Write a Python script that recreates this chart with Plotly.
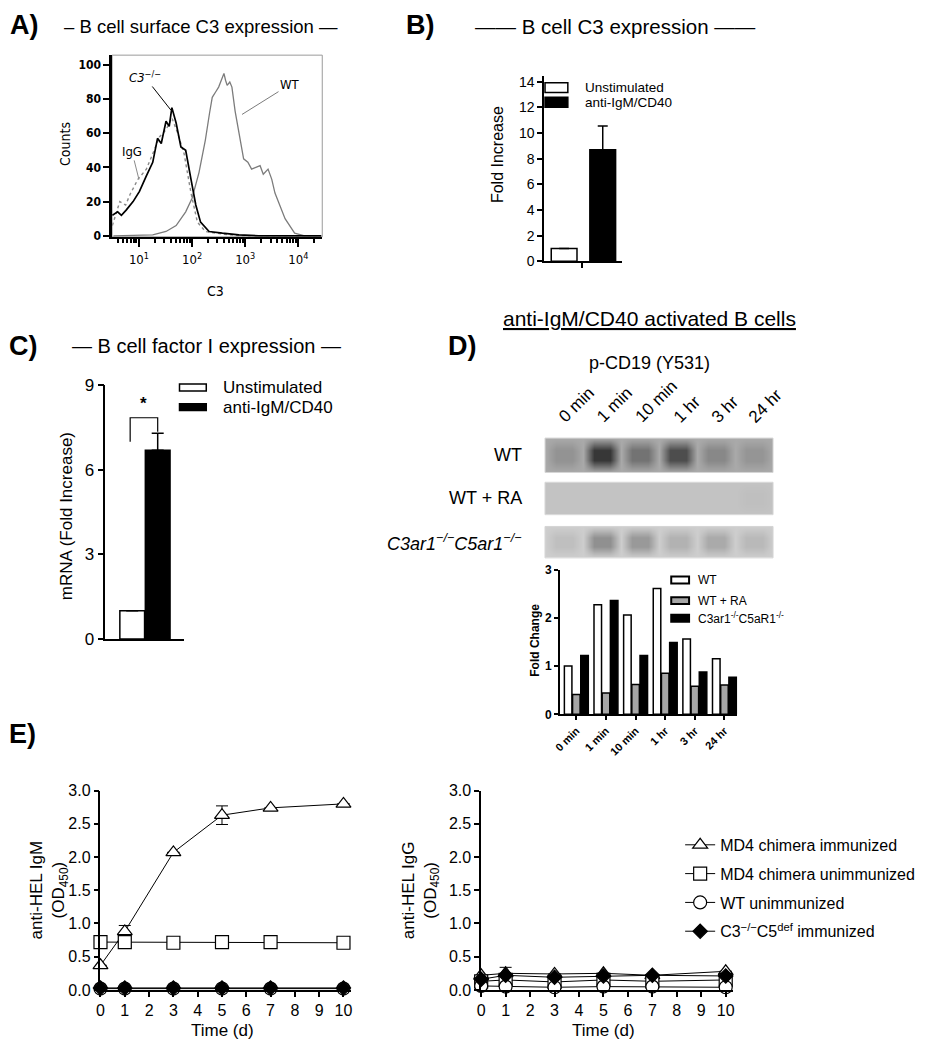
import plotly.graph_objects as go

W, H = 929, 1050
SANS = "Liberation Sans, Arial, sans-serif"
COND = "DejaVu Sans Condensed, DejaVu Sans, sans-serif"


def px(x):
    return x / W


def py(y):
    return 1 - y / H


# ---------------- data ----------------
# A) surface C3 histogram (x given as log10 of C3 intensity)
wt_log = [0.52, 1.26, 1.51, 1.70, 1.88, 2.00, 2.13, 2.25, 2.33, 2.38, 2.44, 2.50, 2.55, 2.60, 2.63,
          2.66, 2.71, 2.75, 2.81, 2.88, 2.97, 3.05, 3.12, 3.20, 3.28, 3.34, 3.43, 3.50, 3.56, 3.75,
          3.93, 4.12, 4.43]
wt_counts = [0, 0.5, 2.5, 6, 14, 22, 37, 56, 72, 81, 84, 87, 91, 95, 91,
             88, 90, 87, 73, 60, 45, 43, 39, 40, 41, 36, 39, 33, 25, 10,
             1.5, 0, 0]
ko_log = [0.50, 0.60, 0.67, 0.76, 0.89, 1.01, 1.14, 1.26, 1.35, 1.42, 1.51, 1.57, 1.62, 1.66,
          1.70, 1.79, 1.88, 1.98, 2.07, 2.16, 2.32, 2.57, 2.88, 3.25, 4.43]
ko_counts = [12, 14, 12, 15, 20, 26, 35, 43, 57, 54, 67, 64, 75, 70,
             66, 52, 50, 33, 18, 8, 2.5, 1.5, 0.5, 0, 0]
igg_log = [0.50, 0.64, 0.75, 0.83, 0.98, 1.14, 1.26, 1.39, 1.51, 1.62, 1.73, 1.85, 1.98, 2.10,
           2.25, 2.57, 2.88, 4.43]
igg_counts = [6, 20, 18, 24, 33, 39, 48, 58, 62, 69, 60, 48, 25, 8,
              2.5, 1, 0, 0]

# B) C3 expression
b_groups = ["Unstimulated", "anti-IgM/CD40"]
b_values = [1.0, 8.7]
b_err = [0, 1.85]

# C) factor I mRNA
c_values = [1.0, 6.7]
c_err = [0, 0.6]

# D) p-CD19 blot and quantification
d_times = ["0 min", "1 min", "10 min", "1 hr", "3 hr", "24 hr"]
d_rows = ["WT", "WT + RA", "<i>C3ar1<sup>\u2212/\u2212</sup>C5ar1<sup>\u2212/\u2212</sup></i>"]
blot_bands = [
    [0.45, 0.88, 0.60, 0.78, 0.50, 0.44],
    [0.22, 0.22, 0.22, 0.22, 0.22, 0.24],
    [0.24, 0.46, 0.42, 0.30, 0.34, 0.27],
]
blot_bg = [0.34, 0.22, 0.17]
d_wt = [1.0, 2.27, 2.06, 2.61, 1.56, 1.15]
d_ra = [0.41, 0.44, 0.62, 0.85, 0.58, 0.61]
d_ko = [1.22, 2.36, 1.22, 1.49, 0.88, 0.77]
d_series = ["WT", "WT + RA", "C3ar1<sup>-/-</sup>C5aR1<sup>-/-</sup>"]

# E) anti-HEL ELISA
e_days = [0, 1, 3, 5, 7, 10]
e_names = ["MD4 chimera immunized", "MD4 chimera unimmunized", "WT unimmunized",
           "C3<sup>\u2212/\u2212</sup>C5<sup>def</sup> immunized"]
igm = [
    [0.37, 0.88, 2.07, 2.63, 2.74, 2.80],
    [0.72, 0.72, 0.71, 0.72, 0.72, 0.71],
    [0.02, 0.02, 0.02, 0.02, 0.02, 0.02],
    [0.03, 0.03, 0.03, 0.03, 0.03, 0.03],
]
igm_err = [[0, 0.09, 0, 0.14, 0, 0], None, None, None]
igg = [
    [0.22, 0.25, 0.24, 0.25, 0.22, 0.28],
    [0.13, 0.15, 0.12, 0.15, 0.13, 0.15],
    [0.06, 0.05, 0.04, 0.05, 0.05, 0.04],
    [0.16, 0.22, 0.19, 0.21, 0.22, 0.21],
]
igg_err = [[0, 0.09, 0, 0, 0, 0], None, None, None]
e_symbols = ["triangle-up", "square", "circle", "diamond"]
e_fills = ["white", "white", "white", "black"]


def ax(**kw):
    base = dict(showgrid=False, zeroline=False, showline=True, linecolor="black", linewidth=1.5,
                ticks="outside", tickcolor="black", tickwidth=1.5, ticklen=5,
                tickfont=dict(family=SANS, size=14, color="black"))
    base.update(kw)
    return base


fig = go.Figure()

# ---- A ----
for xs, ys, col, w, dash in [(wt_log, wt_counts, "#7c7c7c", 1.3, "solid"),
                             (igg_log, igg_counts, "#8a8a8a", 1.4, "dot"),
                             (ko_log, ko_counts, "black", 1.7, "solid")]:
    fig.add_trace(go.Scatter(x=[10 ** v for v in xs], y=ys, mode="lines",
                             line=dict(color=col, width=w, dash=dash),
                             xaxis="x", yaxis="y", showlegend=False))

# ---- B ----
fig.add_trace(go.Bar(x=list(range(len(b_values))), y=b_values, width=0.667,
                     marker=dict(color=["white", "black"], line=dict(color="black", width=1.5)),
                     error_y=dict(type="data", array=b_err, arrayminus=[0] * len(b_err),
                                  symmetric=False, color="black", thickness=1.5, width=5),
                     xaxis="x2", yaxis="y2", showlegend=False))

# ---- C ----
fig.add_trace(go.Bar(x=list(range(len(c_values))), y=c_values, width=0.97,
                     marker=dict(color=["white", "black"], line=dict(color="black", width=1.5)),
                     error_y=dict(type="data", array=c_err, arrayminus=[0] * len(c_err),
                                  symmetric=False, color="black", thickness=1.5, width=6),
                     xaxis="x3", yaxis="y3", showlegend=False))

# ---- D blots: each lane is a flat band blurred into the membrane background ----
blot_x = [-0.5]
for i in range(len(d_times)):
    blot_x += [i - 0.22, i + 0.22, i + 0.5]
blot_y = [0, 0.7, 1.3, 2]
for k, (bands, bg) in enumerate(zip(blot_bands, blot_bg)):
    mid = [bg]
    for v in bands:
        mid += [v, v, bg]
    edge = [bg] * len(mid)
    fig.add_trace(go.Heatmap(x=blot_x, y=blot_y, z=[edge, mid, mid, edge], zsmooth="best",
                             zmin=0, zmax=1, colorscale=[[0, "#f2f2f2"], [1, "#1e1e1e"]],
                             showscale=False, xaxis="x%d" % (4 + k), yaxis="y%d" % (4 + k),
                             hoverinfo="skip"))

# ---- D quantification ----
for vals, fill in zip([d_wt, d_ra, d_ko], ["white", "#a6a6a6", "black"]):
    fig.add_trace(go.Bar(x=list(range(len(d_times))), y=vals,
                         marker=dict(color=fill, line=dict(color="black", width=1.5)),
                         xaxis="x7", yaxis="y7", showlegend=False))

# ---- E ----
for i, name in enumerate(e_names):
    for vals, errs, xa, ya, leg in [(igm[i], igm_err[i], "x8", "y8", True),
                                    (igg[i], igg_err[i], "x9", "y9", False)]:
        fig.add_trace(go.Scatter(
            x=e_days, y=vals, mode="lines+markers", name=name, showlegend=leg,
            legendgroup=name,
            line=dict(color="black", width=1),
            marker=dict(symbol=e_symbols[i], size=13 if e_fills[i] == "white" else 11,
                        color=e_fills[i], line=dict(color="black", width=1.2)),
            error_y=dict(type="data", array=errs, color="black", thickness=1, width=6,
                         visible=errs is not None),
            cliponaxis=False, xaxis=xa, yaxis=ya))

minor_vals = [m * 10 ** e for e in range(0, 5) for m in range(2, 10)]

layout = dict(
    width=W, height=H, margin=dict(l=0, r=0, t=0, b=0),
    paper_bgcolor="white", plot_bgcolor="rgba(0,0,0,0)",
    barmode="group", bargap=0.17, bargroupgap=0.08,
    font=dict(family=SANS, color="black"),
    # A
    xaxis=ax(domain=[px(106), px(318)], anchor="y", type="log", range=[0.495, 4.45],
             tickmode="array", tickvals=[10, 100, 1000, 10000],
             ticktext=["10<sup>1</sup>", "10<sup>2</sup>", "10<sup>3</sup>", "10<sup>4</sup>"],
             ticklen=8, tickwidth=2, linewidth=2, ticklabelstandoff=2,
             tickfont=dict(family=COND, size=13, color="black"),
             minor=dict(tickmode="array", tickvals=minor_vals, ticks="outside", ticklen=4,
                        tickwidth=1.5, tickcolor="black", showgrid=False)),
    yaxis=ax(domain=[py(232), py(47)], anchor="x", range=[-0.6, 105.7],
             tickvals=[0, 20, 40, 60, 80, 100], ticklen=6, tickwidth=2, linewidth=2.5,
             tickfont=dict(family=COND, size=12, color="black", weight="bold")),
    # B
    xaxis2=ax(domain=[px(541.7), px(620)], anchor="y2", range=[-0.52, 1.49],
              tickvals=[0.46], ticktext=[""]),
    yaxis2=ax(domain=[py(257), py(68.3)], anchor="x2", range=[0, 14.45],
              tickvals=list(range(0, 15, 2)), tickfont=dict(family=SANS, size=14, color="black")),
    # C
    xaxis3=ax(domain=[px(99.3), px(179)], anchor="y3", range=[-1.05, 2.05], ticks="",
              showticklabels=False),
    yaxis3=ax(domain=[py(641.5), py(383.3)], anchor="x3", range=[0, 9], tickvals=[0, 3, 6, 9],
              ticklen=6, tickfont=dict(family=SANS, size=17, color="black")),
    # D quantification
    xaxis7=ax(domain=[px(557.7), px(736.7)], anchor="y7", range=[-0.555, 5.435],
              tickvals=list(range(len(d_times))), ticktext=d_times, tickangle=-45, ticklen=4,
              tickfont=dict(family=SANS, size=11, color="black", weight="bold")),
    yaxis7=ax(domain=[py(718.3), py(571)], anchor="x7", range=[0, 3], tickvals=[0, 1, 2, 3],
              ticklen=4, tickfont=dict(family=SANS, size=12, color="black", weight="bold")),
    # E
    xaxis8=ax(domain=[px(94.3), px(347)], anchor="y8", range=[0, 10.31], dtick=1, tick0=0,
              tickfont=dict(family=SANS, size=16, color="black")),
    yaxis8=ax(domain=[py(999), py(796)], anchor="x8", range=[0, 3], dtick=0.5, tickformat=".1f",
              tickfont=dict(family=SANS, size=16, color="black")),
    xaxis9=ax(domain=[px(478.3), px(732.6)], anchor="y9", range=[0, 10.31], dtick=1, tick0=0,
              tickfont=dict(family=SANS, size=16, color="black")),
    yaxis9=ax(domain=[py(999), py(796)], anchor="x9", range=[0, 3], dtick=0.5, tickformat=".1f",
              tickfont=dict(family=SANS, size=16, color="black")),
    legend=dict(x=px(679), y=py(834), xanchor="left", yanchor="top",
                font=dict(family=SANS, size=16, color="black"), bgcolor="rgba(0,0,0,0)",
                tracegroupgap=5, itemwidth=30),
)

blot_tops = [437, 482, 527]
blot_bottoms = [472, 515, 559]
for k in range(3):
    layout["xaxis%d" % (4 + k)] = dict(domain=[px(542.7), px(772.7)], anchor="y%d" % (4 + k),
                                       range=[-0.5, 5.5], visible=False)
    layout["yaxis%d" % (4 + k)] = dict(domain=[py(blot_bottoms[k]), py(blot_tops[k])],
                                       anchor="x%d" % (4 + k), range=[0, 2], visible=False)
fig.update_layout(**layout)

shapes = []
# A: grey frame around the histogram
shapes.append(dict(type="rect", xref="x domain", yref="y domain", x0=0, x1=1, y0=0, y1=1,
                   line=dict(color="#9a9a9a", width=1), layer="below"))
# blot outlines
for k in range(3):
    shapes.append(dict(type="rect", xref="x%d domain" % (4 + k), yref="y%d domain" % (4 + k),
                       x0=0, x1=1, y0=0, y1=1, line=dict(color="#d4d4d4", width=1)))
# C: significance bracket
top = c_values[1] + c_err[1] + 0.55
shapes.append(dict(type="path", xref="x3", yref="y3",
                   path="M -0.08,%f L -0.08,%f L 1,%f L 1,%f" % (top - 0.85, top, top, top - 0.5),
                   line=dict(color="black", width=1.2)))


def swatch(x0, x1, y0, y1, fill, lw=1.5):
    shapes.append(dict(type="rect", xref="paper", yref="paper", x0=px(x0), x1=px(x1),
                       y0=py(y1), y1=py(y0), fillcolor=fill, line=dict(color="black", width=lw)))


ann = []


def text(x, y, s, size, xanchor="center", angle=0, family=SANS, yanchor="middle"):
    ann.append(dict(x=px(x), y=py(y), xref="paper", yref="paper", text=s, showarrow=False,
                    xanchor=xanchor, yanchor=yanchor, textangle=angle,
                    font=dict(family=family, size=size, color="black")))


# B legend
for (fill, y0), lab in zip([("white", 75), ("black", 90)], b_groups):
    swatch(542.7, 565.7, y0, y0 + 10, fill)
    text(581, y0 + 5, lab, 13.5, "left")
# C legend
for (fill, y0), lab in zip([("white", 382), ("black", 402)], b_groups):
    swatch(174, 201, y0, y0 + 7, fill)
    text(216, y0 + 3.5, lab, 17, "left")
# D legend
for (fill, y0), lab in zip([("white", 578), ("#a6a6a6", 599), ("black", 617)], d_series):
    swatch(670, 688, y0, y0 + 7, fill, 2)
    text(695, y0 + 3.5, lab, 12, "left")

# C: significance star
ann.append(dict(x=0.46, y=top + 0.1, xref="x3", yref="y3", text="<b>*</b>", showarrow=False,
                yanchor="bottom", font=dict(family=SANS, size=17, color="black")))

# panel letters and titles
for lab, x, y in [("A)", 1, 16), ("B)", 400, 16), ("C)", 0, 343), ("D)", 443, 343), ("E)", 0, 738)]:
    text(x, y, "<b>%s</b>" % lab, 27, "left")
text(55, 18, "\u2013 B cell surface C3 expression \u2014", 18.5, "left")
text(470, 18, "\u2014\u2014 B cell C3 expression \u2014\u2014", 20.5, "left")
text(64, 343, "\u2014 B cell factor I expression \u2014", 20, "left")
text(648, 315, "<u>anti-IgM/CD40 activated B cells</u>", 21)
text(648, 361, "p-CD19 (Y531)", 18)

# axis titles
text(58, 138, "Counts", 14, angle=-90, family=COND)
text(210, 287, "C3", 14, family=COND)
text(495, 148, "Fold Increase", 16, angle=-90)
text(60, 516, "mRNA (Fold Increase)", 17, angle=-90)
text(533, 643, "<b>Fold Change</b>", 12, angle=-90)
text(42, 897, "anti-HEL IgM<br>(OD<sub>450</sub>)", 17, angle=-90)
text(417, 897, "anti-HEL IgG<br>(OD<sub>450</sub>)", 17, angle=-90)
text(217, 1040, "Time (d)", 17)
text(602, 1040, "Time (d)", 17)

# blot lane and row labels
for i, t in enumerate(d_times):
    ann.append(dict(x=i - 0.3, y=py(428), xref="x4", yref="paper", text=t, showarrow=False,
                    xanchor="left", yanchor="bottom", textangle=-45,
                    font=dict(family=SANS, size=17, color="black")))
for k, lab in enumerate(d_rows):
    text(521, (blot_tops[k] + blot_bottoms[k]) / 2, lab, 18, "right")

# A curve labels
for lab, xl, yl, dx, dy, col in [("<i>C3</i><sup>\u2212/\u2212</sup>", 1.60, 73.6, -26, -33, "black"),
                                 ("WT", 2.94, 71, 48, -30, "#7c7c7c"),
                                 ("IgG", 1.0, 33, -7, -28, "#8a8a8a")]:
    ann.append(dict(x=xl, y=yl, xref="x", yref="y", text=lab, showarrow=True, arrowhead=0,
                    arrowwidth=1, arrowcolor=col, ax=dx, ay=dy, standoff=0,
                    font=dict(family=COND, size=13, color="black")))

fig.update_layout(shapes=shapes, annotations=ann)
# drop the page's default body margin so the 929x1050 figure sits at the window origin
fig.write_html("out.html", config=dict(displayModeBar=False),
               post_script="document.body.style.margin='0';"
                           "document.documentElement.style.overflow='hidden';")
